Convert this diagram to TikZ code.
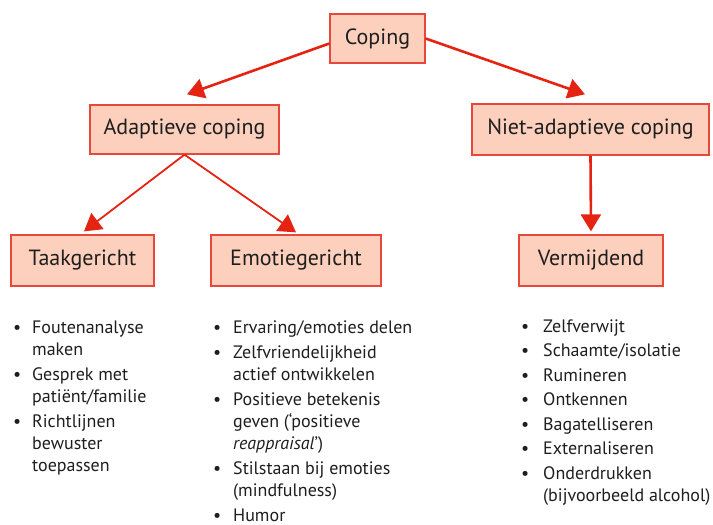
\documentclass[tikz,border=0pt]{standalone}
\usepackage{fontspec}
\setmainfont{PT Sans}
\usetikzlibrary{arrows.meta,calc}
\definecolor{boxfill}{HTML}{FCD0BC}
\definecolor{boxline}{HTML}{E8473C}
\definecolor{arrred}{HTML}{E42313}
\definecolor{txt}{HTML}{1E1E1E}
\newcommand{\bitem}[2]{\par\hangindent=#1\hangafter=1\noindent\makebox[#1][l]{\textbullet}#2}
\newcommand{\collist}[3]{\parbox[t]{#1}{\fontsize{18}{22}\selectfont\raggedright\parskip=#2 #3}}
\begin{document}
\begin{tikzpicture}[x=1pt,y=-1pt,
  cbox/.style={draw=boxline,fill=boxfill,line width=1.3pt,inner sep=0pt,
    minimum height=49pt,text=txt,font=\fontsize{22}{26}\selectfont},
  bigarr/.style={draw=arrred,line width=2.6pt,-{Triangle[length=17pt,width=20pt]}},
  smallarr/.style={draw=arrred,line width=1.8pt,-{Triangle[length=17pt,width=20pt]}},
  lst/.style={anchor=base west,inner sep=0pt,text=txt}]
\useasboundingbox (0,0) rectangle (713,525);
\node[cbox,minimum width=95pt] (coping) at (377.5,38.5) {Coping};
\node[cbox,minimum width=189pt] (adapt) at (184.5,129.5) {Adaptieve coping};
\node[cbox,minimum width=237pt,minimum height=51pt] (niet) at (590.5,129.5) {Niet-adaptieve coping};
\node[cbox,minimum width=143pt,minimum height=51pt] (taak) at (82.5,260.5) {Taakgericht};
\node[cbox,minimum width=170pt,minimum height=51pt] (emo) at (296,260.5) {Emotiegericht};
\node[cbox,minimum width=144pt,minimum height=51pt] (verm) at (591,260.5) {Vermijdend};
\draw[bigarr] ($(coping.west)+(0,5)$) -- ($(adapt.north)+(2.5,-10)$);
\draw[bigarr] (coping.east) -- ($(niet.north)+(-5.5,-9)$);
\draw[smallarr] (adapt.south) -- ($(taak.north)+(1.5,-3)$);
\draw[smallarr] (adapt.south) -- ($(emo.north)+(0,-2)$);
\draw[bigarr] (niet.south) -- ($(verm.north)+(0,-3)$);
\node[lst] (l1) at (13,333) {\collist{185pt}{3pt}{%
  \bitem{19pt}{Foutenanalyse\newline maken}
  \bitem{19pt}{Gesprek met\newline patiënt/familie}
  \bitem{19pt}{Richtlijnen\newline bewuster\newline toepassen}}};
\node[lst] (l2) at (213,333) {\collist{230pt}{3pt}{%
  \bitem{20pt}{Ervaring/emoties delen}
  \bitem{20pt}{Zelfvriendelijkheid\newline actief ontwikkelen}
  \bitem{20pt}{Positieve betekenis\newline geven (‘positieve\newline \textit{reappraisal}’)}
  \bitem{20pt}{Stilstaan bij emoties\newline (mindfulness)}
  \bitem{20pt}{Humor}}};
\node[lst] (l3) at (521,332) {\collist{192pt}{2.5pt}{%
  \bitem{22pt}{Zelfverwijt}
  \bitem{22pt}{Schaamte/isolatie}
  \bitem{22pt}{Rumineren}
  \bitem{22pt}{Ontkennen}
  \bitem{22pt}{Bagatelliseren}
  \bitem{22pt}{Externaliseren}
  \bitem{22pt}{Onderdrukken\newline (bijvoorbeeld alcohol)}}};
\end{tikzpicture}
\end{document}
